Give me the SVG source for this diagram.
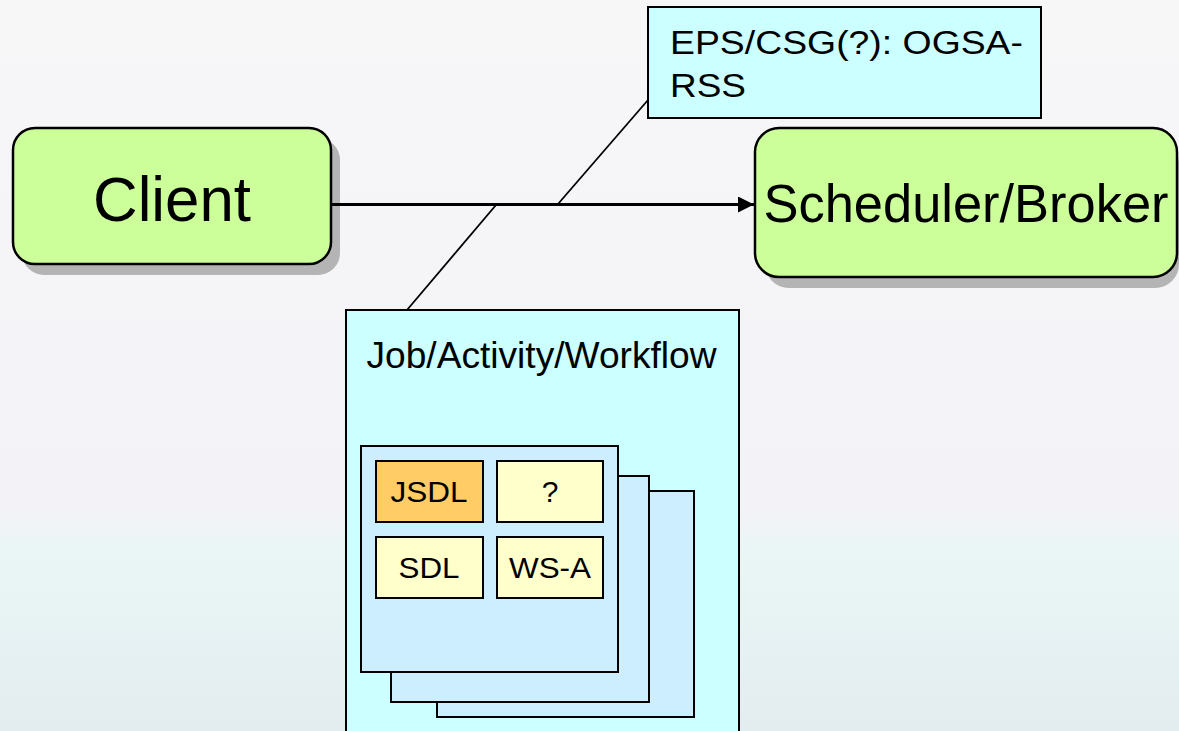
<svg xmlns="http://www.w3.org/2000/svg" width="1179" height="731" viewBox="0 0 1179 731">
<defs>
<linearGradient id="bg" x1="0" y1="0" x2="0" y2="1">
<stop offset="0" stop-color="#f7f7f8"/>
<stop offset="0.7" stop-color="#f3f2f7"/>
<stop offset="0.75" stop-color="#eaf6f6"/>
<stop offset="1" stop-color="#e3edf0"/>
</linearGradient>
<marker id="arr" markerWidth="17" markerHeight="17" refX="16" refY="8" orient="auto" markerUnits="userSpaceOnUse">
<path d="M0,0 L16,8 L0,16 Z" fill="#000"/>
</marker>
<style>
text{font-family:"Liberation Sans",Arial,sans-serif;fill:#000}
.shadow{fill:#b4b4b4}
.green{fill:#ccff99;stroke:#000;stroke-width:2.5}
.cyan{fill:#ccffff;stroke:#000;stroke-width:2}
.stack{fill:#cceeff;stroke:#000;stroke-width:2}
.ylw{fill:#ffffcc;stroke:#000;stroke-width:2}
.org{fill:#ffcc66;stroke:#000;stroke-width:2}
.conn{stroke:#000;fill:none}
</style>
</defs>
<rect x="0" y="0" width="1179" height="731" fill="url(#bg)"/>

<g id="client">
<rect class="shadow" x="22" y="138" width="318" height="137" rx="22"/>
<rect class="green" x="13" y="128" width="318" height="136" rx="22"/>
<text x="172" y="221" font-size="63" text-anchor="middle" textLength="158" lengthAdjust="spacingAndGlyphs">Client</text>
</g>

<g id="scheduler">
<rect class="shadow" x="765" y="139" width="414" height="149" rx="24"/>
<rect class="green" x="755" y="128" width="422" height="149" rx="24"/>
<text x="966" y="222" font-size="53" text-anchor="middle" textLength="405" lengthAdjust="spacingAndGlyphs">Scheduler/Broker</text>
</g>

<g id="eps">
<rect class="cyan" x="648" y="7" width="393" height="111"/>
<text x="670" y="54" font-size="34" textLength="353" lengthAdjust="spacingAndGlyphs">EPS/CSG(?): OGSA-</text>
<text x="670" y="97" font-size="34" textLength="76" lengthAdjust="spacingAndGlyphs">RSS</text>
</g>

<g id="job">
<rect class="cyan" x="346" y="310" width="393" height="440"/>
<text x="366.5" y="368" font-size="36" textLength="350" lengthAdjust="spacingAndGlyphs">Job/Activity/Workflow</text>
<rect class="stack" x="437" y="491" width="257" height="226"/>
<rect class="stack" x="391" y="476" width="258" height="226"/>
<rect class="stack" x="361" y="446" width="257" height="226"/>
</g>

<g id="jsdl">
<rect class="org" x="376" y="461" width="107" height="61"/>
<text x="429" y="502" font-size="30" text-anchor="middle" textLength="77" lengthAdjust="spacingAndGlyphs">JSDL</text>
</g>
<g id="unknown">
<rect class="ylw" x="497" y="461" width="106" height="61"/>
<text x="550" y="502" font-size="30" text-anchor="middle">?</text>
</g>
<g id="sdl">
<rect class="ylw" x="376" y="537" width="107" height="61"/>
<text x="429" y="578" font-size="30" text-anchor="middle" textLength="61" lengthAdjust="spacingAndGlyphs">SDL</text>
</g>
<g id="wsa">
<rect class="ylw" x="497" y="537" width="106" height="61"/>
<text x="550" y="578" font-size="30" text-anchor="middle" textLength="82" lengthAdjust="spacingAndGlyphs">WS-A</text>
</g>

<g id="connectors">
<line class="conn" x1="331" y1="204.5" x2="754" y2="204.5" stroke-width="3" marker-end="url(#arr)"/>
<line class="conn" x1="648" y1="100" x2="558" y2="204" stroke-width="1.8"/>
<line class="conn" x1="496" y1="205" x2="407" y2="310" stroke-width="1.8"/>
</g>
</svg>
